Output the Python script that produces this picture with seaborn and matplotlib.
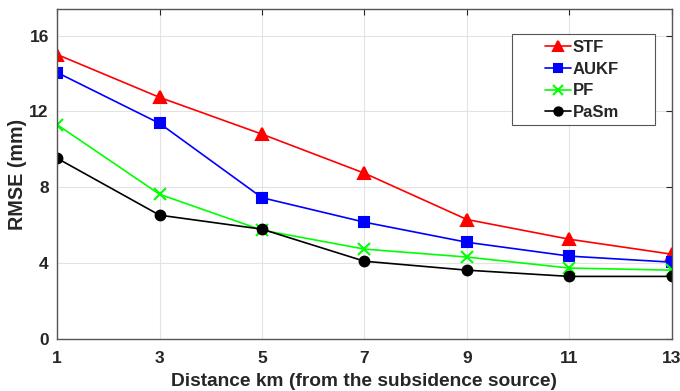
import numpy as np
import pandas as pd
import seaborn as sns
import matplotlib.pyplot as plt
from matplotlib.patches import Rectangle

distance = [1, 3, 5, 7, 9, 11, 13]
stf = [15.0, 12.74, 10.8, 8.74, 6.3, 5.26, 4.47]
aukf = [14.05, 11.37, 7.45, 6.16, 5.1, 4.37, 4.05]
pf = [11.3, 7.63, 5.74, 4.74, 4.32, 3.74, 3.63]
pasm = [9.53, 6.53, 5.79, 4.1, 3.63, 3.3, 3.3]

df = pd.DataFrame({"Distance": distance, "STF": stf, "AUKF": aukf, "PF": pf, "PaSm": pasm})
df = df.melt(id_vars="Distance", var_name="Method", value_name="RMSE")

sns.set_style("whitegrid")
plt.rcParams["font.family"] = ["Liberation Sans", "DejaVu Sans"]
plt.rcParams["font.weight"] = "bold"

fig = plt.figure(figsize=(6.8, 3.91), dpi=100)
ax = fig.add_axes([0.084, 0.133, 0.904, 0.844])

palette = {"STF": "#ff0000", "AUKF": "#0000ff", "PF": "#00ff00", "PaSm": "#000000"}
markers = {"STF": "^", "AUKF": "s", "PF": "x", "PaSm": "o"}
sizes = {"STF": 8, "AUKF": 7, "PF": 8, "PaSm": 7}
for m in ["STF", "AUKF", "PF", "PaSm"]:
    sub = df[df["Method"] == m]
    sns.lineplot(data=sub, x="Distance", y="RMSE", ax=ax, color=palette[m], marker=markers[m],
                 markersize=sizes[m], markeredgecolor=palette[m], markeredgewidth=1.5,
                 linewidth=1.2, label=m)

ax.set_xlim(1, 13)
ax.set_ylim(0, 17.4)
ax.set_xticks(distance)
ax.set_yticks([0, 4, 8, 12, 16])
ax.grid(True, color="#e3e3e3", linewidth=0.8)
for s in ax.spines.values():
    s.set_color("#555555")
    s.set_linewidth(1.0)
ax.tick_params(direction="in", length=4, top=True, right=True, colors="#262626", labelsize=12.5)
ax.tick_params(axis="x", pad=9)
ax.tick_params(axis="y", pad=6)
for lab in ax.get_xticklabels() + ax.get_yticklabels():
    lab.set_fontweight("bold")
ax.set_xlabel("Distance km (from the subsidence source)", fontsize=13.8, fontweight="bold",
              color="#262626", labelpad=5)
ax.set_ylabel("RMSE (mm)", fontsize=14.2, fontweight="bold", color="#262626", labelpad=2)

leg = ax.legend(loc="upper left", bbox_to_anchor=(0.7935, 0.906), frameon=False,
                borderaxespad=0, borderpad=0, fontsize=12, handlelength=1.55,
                handletextpad=0.12, labelspacing=0.4, markerscale=0.85)
for t in leg.get_texts():
    t.set_fontweight("bold")

# MATLAB-style legend box with wide side padding
fig.canvas.draw()
bb = leg.get_window_extent()
px, py = 33, 6
x0, y0 = ax.transAxes.inverted().transform((bb.x0 - px, bb.y0 - py + 1))
x1, y1 = ax.transAxes.inverted().transform((bb.x1 + px + 3, bb.y1 + py))
ax.add_artist(Rectangle((x0, y0), x1 - x0, y1 - y0, transform=ax.transAxes,
                        facecolor="white", edgecolor="#555555", linewidth=0.8, zorder=4))

fig.savefig("out.png", dpi=100)
